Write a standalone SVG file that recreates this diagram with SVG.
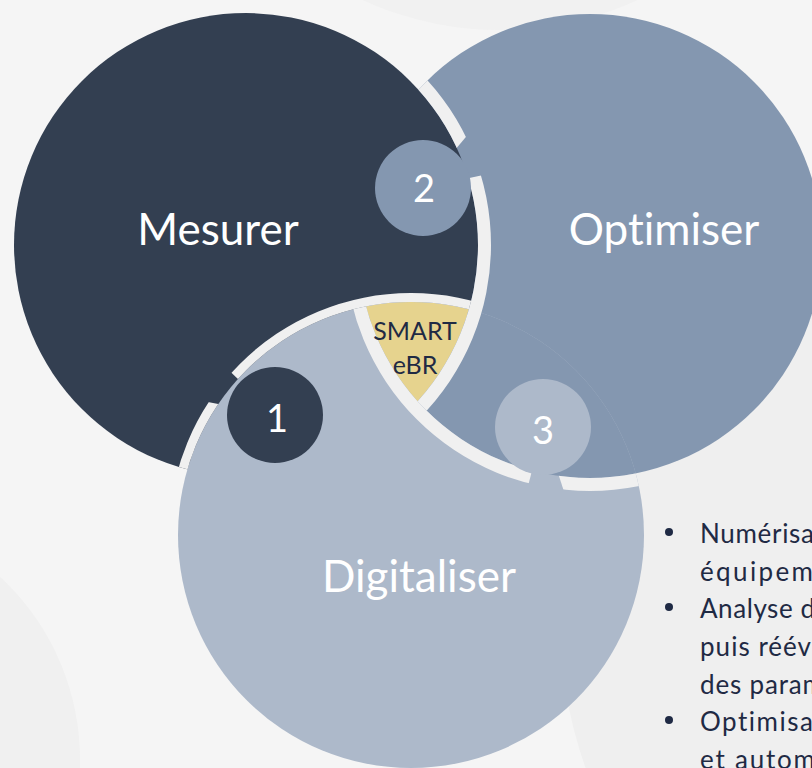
<svg xmlns="http://www.w3.org/2000/svg" width="812" height="768" viewBox="0 0 812 768">
<defs>
<style>
text{font-variant-ligatures:none;font-feature-settings:"liga" 0,"clig" 0}
.lbl{font-family:Lato,"Open Sans","Liberation Sans",sans-serif;fill:#ffffff;text-anchor:middle}
.big{font-size:44px}
.num{font-size:38px}
.smart{font-family:Lato,"Open Sans","Liberation Sans",sans-serif;font-size:25px;fill:#1f2a44;text-anchor:middle}
.body{font-family:Lato,"Open Sans","Liberation Sans",sans-serif;font-size:26px;fill:#1f2a44}
.gap{fill:#f0f0f0;fill-rule:evenodd}
.dark{fill:#333f51}
.opt{fill:#8497b0}
.digi{fill:#adb9ca}
.yel{fill:#e6d38e}
.bul{fill:#1f2a44}
</style>
<clipPath id="cA"><circle cx="246" cy="245" r="232"/></clipPath>
<clipPath id="cB"><circle cx="590" cy="246" r="232"/></clipPath>
<clipPath id="cC"><circle cx="411" cy="535" r="233"/></clipPath>
<mask id="mA" maskUnits="userSpaceOnUse" x="0" y="0" width="812" height="768"><rect width="812" height="768" fill="#fff"/><polygon points="423,188 481,119 511,169" fill="#000"/></mask>
<mask id="mB" maskUnits="userSpaceOnUse" x="0" y="0" width="812" height="768"><rect width="812" height="768" fill="#fff"/><polygon points="543,427 571,513 521,514" fill="#000"/></mask>
<mask id="mC" maskUnits="userSpaceOnUse" x="0" y="0" width="812" height="768"><rect width="812" height="768" fill="#fff"/><polygon points="275,415 187,398 210,352" fill="#000"/></mask>
</defs>

<g id="background">
<rect width="812" height="768" fill="#f5f5f5"/>
<circle cx="1000" cy="620" r="440" fill="#efefef"/>
<circle cx="-170" cy="760" r="250" fill="#f0f0f0"/>
<circle cx="500" cy="-300" r="330" fill="#f1f1f1"/>
</g>

<g id="optimiser">
<circle class="opt" cx="590" cy="246" r="232"/>
</g>
<g id="mesurer">
<circle class="dark" cx="246" cy="245" r="232"/>
</g>
<g id="digitaliser">
<circle class="digi" cx="411" cy="535" r="233"/>
</g>
<g id="optimiser-over-digitaliser" clip-path="url(#cC)">
<circle class="opt" cx="590" cy="246" r="232"/>
</g>
<g id="smart">
<g clip-path="url(#cB)"><g clip-path="url(#cC)"><circle class="yel" cx="246" cy="245" r="232"/></g></g>
</g>

<g id="separators">
<g clip-path="url(#cB)"><path class="gap" mask="url(#mA)" d="M1,245 a245,245 0 1,0 490,0 a245,245 0 1,0 -490,0Z M14,245 a232,232 0 1,0 464,0 a232,232 0 1,0 -464,0Z"/></g>
<g clip-path="url(#cC)"><path class="gap" mask="url(#mB)" d="M345,246 a245,245 0 1,0 490,0 a245,245 0 1,0 -490,0Z M358,246 a232,232 0 1,0 464,0 a232,232 0 1,0 -464,0Z"/></g>
<g clip-path="url(#cA)"><path class="gap" mask="url(#mC)" d="M169,535 a242,242 0 1,0 484,0 a242,242 0 1,0 -484,0Z M178,535 a233,233 0 1,0 466,0 a233,233 0 1,0 -466,0Z"/></g>
</g>

<g id="n1">
<circle class="dark" cx="275" cy="415" r="48"/>
<text class="lbl num" x="277" y="432">1</text>
</g>
<g id="n2">
<circle class="opt" cx="423" cy="188" r="48"/>
<text class="lbl num" x="424" y="202">2</text>
</g>
<g id="n3">
<circle class="digi" cx="543" cy="427" r="48"/>
<text class="lbl num" x="543" y="444">3</text>
</g>

<g id="labels">
<text class="lbl big" x="218" y="245">Mesurer</text>
<text class="lbl big" x="664" y="245">Optimiser</text>
<text class="lbl big" x="419" y="592">Digitaliser</text>
<text class="smart" x="415" y="340">SMART</text>
<text class="smart" x="415" y="374">eBR</text>
</g>

<g id="bullets">
<circle class="bul" cx="669" cy="532" r="4"/>
<circle class="bul" cx="669" cy="607" r="4"/>
<circle class="bul" cx="669" cy="720" r="4"/>
<text class="body" x="700" y="543" textLength="114">Numérisa</text>
<text class="body" x="700" y="581" textLength="113">équipem</text>
<text class="body" x="700" y="618" textLength="115">Analyse d</text>
<text class="body" x="700" y="656" textLength="111">puis réév</text>
<text class="body" x="700" y="694" textLength="124">des param</text>
<text class="body" x="700" y="731" textLength="113">Optimisa</text>
<text class="body" x="700" y="769" textLength="115">et autom</text>
</g>
</svg>
